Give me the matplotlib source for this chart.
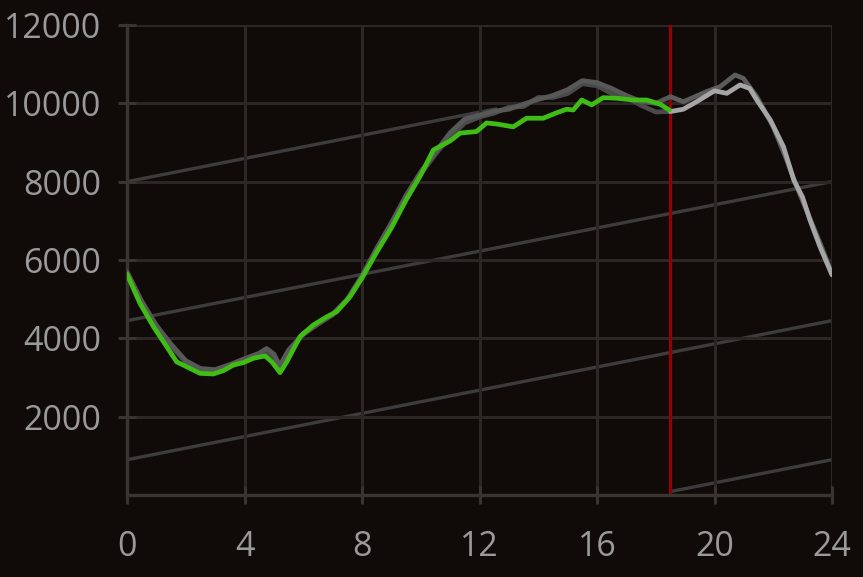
#plot.py
import numpy as np
import matplotlib
matplotlib.use("Agg")
import matplotlib.pyplot as plt

#%% Datos (horas, valores)
hora_verde = [0, 0.44, 0.9, 1.35, 1.69, 2.03, 2.49, 2.94, 3.28, 3.62, 3.96, 4.3, 4.7,
              4.93, 5.21, 5.44, 5.89, 6.34, 6.8, 7.14, 7.59, 8.0, 8.5, 9.0, 9.5, 10.0,
              10.43, 11.0, 11.34, 11.9, 12.24, 12.6, 13.15, 13.6, 14.17, 14.63, 14.97,
              15.19, 15.48, 15.82, 16.21, 16.67, 17.24, 17.69, 18.14, 18.46]
valor_verde = [5640, 4895, 4300, 3790, 3400, 3275, 3105, 3090, 3175, 3320, 3380, 3490, 3550,
               3400, 3125, 3400, 4045, 4340, 4550, 4680, 5060, 5540, 6200, 6820, 7530, 8170,
               8810, 9040, 9240, 9280, 9500, 9470, 9400, 9620, 9620, 9760, 9850,
               9830, 10085, 9960, 10145, 10130, 10085, 10085, 9980, 9830]

hora_gris = [0, 0.5, 1.0, 1.5, 2.0, 2.5, 3.0, 3.5, 4.0, 4.5, 4.75, 5.0, 5.2, 5.5, 6.0,
             6.5, 7.0, 7.5, 8.0, 8.5, 9.0, 9.5, 10.0, 10.5, 11.0, 11.5, 12.0, 12.5,
             13.0, 13.5, 14.0, 14.5, 15.0, 15.5, 16.0, 16.5, 17.0, 17.5, 18.0, 18.5]
valor_gris_a = [5700, 4950, 4330, 3850, 3430, 3230, 3200, 3330, 3480, 3620, 3740, 3600, 3300,
                3700, 4120, 4380, 4620, 5000, 5600, 6300, 6950, 7650, 8250, 8750, 9250, 9600,
                9700, 9800, 9850, 9980, 10100, 10200, 10350, 10580, 10530, 10380, 10200,
                10050, 10000, 10170]
valor_gris_b = [5650, 4900, 4300, 3800, 3400, 3200, 3150, 3280, 3420, 3560, 3650, 3520, 3250,
                3650, 4100, 4360, 4600, 4980, 5580, 6250, 6900, 7600, 8200, 8700, 9150, 9500,
                9650, 9750, 9900, 9920, 10150, 10150, 10250, 10500, 10450, 10250, 10150,
                9950, 9780, 9790]

hora_gris_a2 = [18.5, 18.94, 19.73, 20.19, 20.7, 20.98, 21.44, 22.0, 22.46, 22.8, 23.2, 23.6, 24.0]
valor_gris_a2 = [10170, 10040, 10300, 10425, 10725, 10640, 10170, 9400, 8550, 7870, 7150, 6420, 5650]

hora_pron = [18.5, 18.94, 19.39, 20.0, 20.42, 20.87, 21.2, 21.44, 21.9, 22.35, 22.7, 23.0,
             23.25, 23.59, 24.0]
valor_pron = [9790, 9850, 10040, 10320, 10255, 10470, 10380, 10085, 9575, 8890, 8040, 7600,
              7020, 6340, 5620]

hora_actual = 18.5

# rectas diagonales: ordenada al origen, pendiente, hora inicial y final
diag_origen = [-2650, 900, 4450, 8000]
diag_pendiente = 148
diag_inicio = [18.5, 0, 0, 0]
diag_fin = [24, 24, 24, 12.6]

#%% Grafico
fondo = "#100b09"
fig = plt.figure(figsize=(8.63, 5.77), dpi=100, facecolor=fondo)
ax = fig.add_axes([127/863, 1 - 495/577, 705/863, 470/577], facecolor=fondo)

ax.set_xlim(0, 24)
ax.set_ylim(0, 12000)
ax.set_xticks(range(0, 25, 4))
ax.set_yticks(range(2000, 12001, 2000))
ax.grid(True, color="#2c2624", lw=2.2, zorder=0)

for b, ini, fin in zip(diag_origen, diag_inicio, diag_fin):
    hh = np.array([ini, fin])
    ax.plot(hh, b + diag_pendiente*hh, color="#3d3b3b", lw=2.4, zorder=1,
            solid_capstyle="butt")

ax.axvline(hora_actual, color="#8c0404", lw=2.4, zorder=2)

estilo = dict(lw=3.4, solid_joinstyle="round", solid_capstyle="round")
ax.plot(hora_gris, valor_gris_b, color="#4a4a4a", zorder=3, **estilo)
ax.plot(hora_gris, valor_gris_a, color="#585858", zorder=3, **estilo)
ax.plot(hora_gris_a2, valor_gris_a2, color="#5c5c5c", zorder=3, **estilo)
ax.plot(hora_pron, valor_pron, color="#a6a6a6", zorder=4, **estilo)
ax.plot(hora_verde, valor_verde, color="#3fbd14", zorder=5, **estilo)

for s in ["top", "right"]:
    ax.spines[s].set_visible(False)
for s in ["left", "bottom"]:
    ax.spines[s].set_color("#3a3431")
    ax.spines[s].set_linewidth(2.4)

ax.tick_params(axis="both", direction="inout", length=13, width=2.2, color="#3a3431",
               labelcolor="#9a9a9a", labelsize=24.5)
ax.tick_params(axis="x", pad=19)
ax.tick_params(axis="y", pad=12)
for lab in ax.get_xticklabels() + ax.get_yticklabels():
    lab.set_family(["Open Sans", "DejaVu Sans"])

fig.savefig("out.png", dpi=100, facecolor=fondo)
